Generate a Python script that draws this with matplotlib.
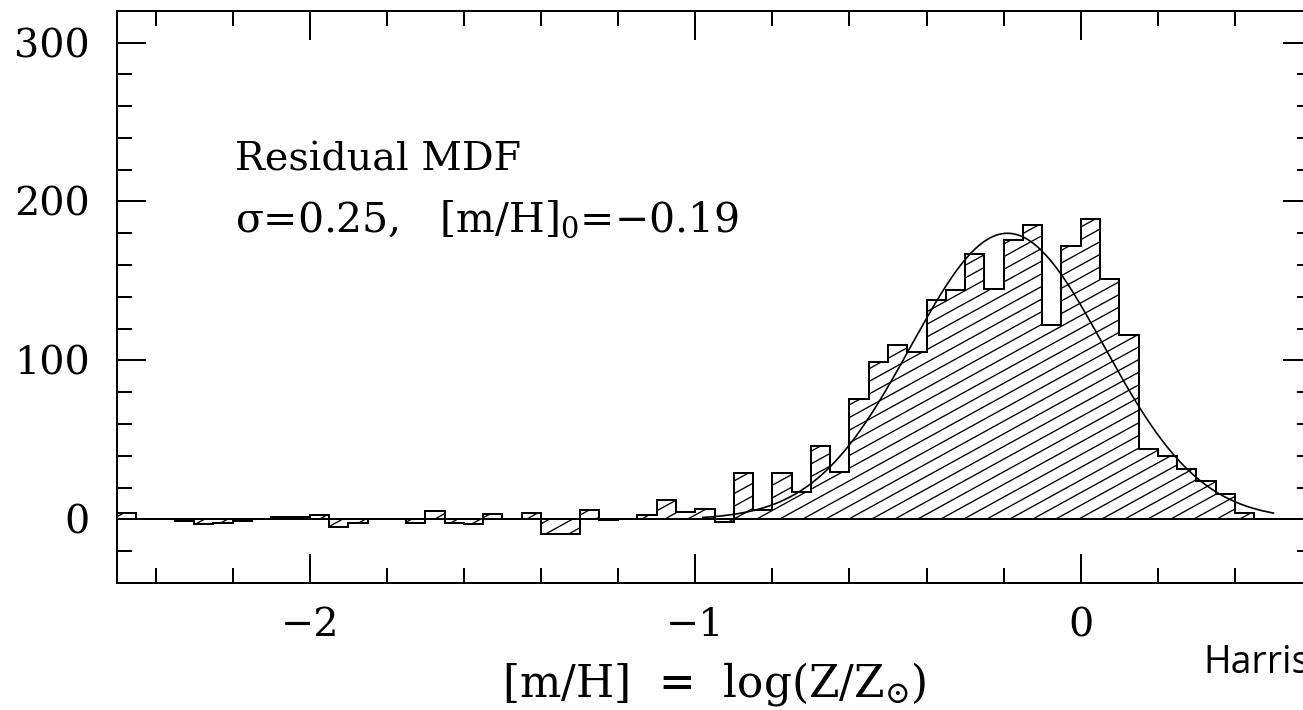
import numpy as np
import matplotlib
matplotlib.use("Agg")
import matplotlib.pyplot as plt
from matplotlib.collections import LineCollection
from matplotlib.ticker import MultipleLocator

plt.rcParams["mathtext.fontset"] = "dejavuserif"
plt.rcParams["font.family"] = ["DejaVu Serif"]

# Residual metallicity distribution, 0.05 dex bins from -2.5 to +0.5
bin_edges = np.linspace(-2.5, 0.5, 61)
residual_counts = [
    4, 0, 0, -1, -3, -2, -1, 0.5, 1.5, 1.5,
    3, -5, -2, 0, 0, -2, 5.5, -2, -3, 3.5,
    0, 4, -9, -9, 6, -0.5, 0, 3, 12, 4.5,
    6.5, -1.5, 29, 6, 29, 17.5, 46, 30, 76, 99,
    110, 105, 138, 144, 167, 145, 176, 185, 122, 172,
    189, 151, 116, 44, 40, 32, 24, 16, 4, 0,
]

# Gaussian fit parameters
fit_center = -0.19
fit_sigma = 0.25
fit_amplitude = 180.0
fit_range = (-0.98, 0.5)

x_major_ticks = [-2, -1, 0]
x_tick_labels = ["\u22122", "\u22121", "0"]
y_major_ticks = [0, 100, 200, 300]
y_tick_labels = ["0", "100", "200", "300"]

fig = plt.figure(figsize=(13.03, 7.10), dpi=100)
ax = fig.add_axes([0.0898, 0.1789, 0.9171, 0.806])
ax.set_xlim(-2.5, 0.6)
ax.set_ylim(-40, 320)

lw = 1.44
for sp in ax.spines.values():
    sp.set_linewidth(lw)

# zero line across the whole panel
ax.axhline(0, color="black", lw=lw, zorder=2)

# histogram outline
step = ax.stairs(residual_counts, bin_edges, baseline=0, fill=True,
                 facecolor="none", edgecolor="black", linewidth=lw, zorder=3)

# shallow diagonal hatching clipped to the histogram area
bbox = ax.get_window_extent()
w_px, h_px = bbox.width, bbox.height
slope = 0.55
spacing = 23.0
segs = []
c = -h_px / slope - spacing
while c < w_px + spacing:
    x0, x1 = c, c + 2.5 * w_px
    y0, y1 = 0.0, slope * (x1 - x0)
    segs.append([(x0 / w_px, y0 / h_px), (x1 / w_px, y1 / h_px)])
    c += spacing
hatch = LineCollection(segs, colors="black", linewidths=0.95,
                       transform=ax.transAxes, zorder=2.5)
ax.add_collection(hatch)
hatch.set_clip_path(step)

# Gaussian model curve
xg = np.linspace(fit_range[0], fit_range[1], 400)
yg = fit_amplitude * np.exp(-0.5 * ((xg - fit_center) / fit_sigma) ** 2)
ax.plot(xg, yg, color="black", lw=1.2, zorder=4)

ax.set_xticks(x_major_ticks, x_tick_labels)
ax.set_yticks(y_major_ticks, y_tick_labels)
ax.xaxis.set_minor_locator(MultipleLocator(0.2))
ax.yaxis.set_minor_locator(MultipleLocator(20))
ax.tick_params(which="both", direction="in", top=True, right=True,
               width=lw, labelsize=28.5)
ax.tick_params(which="major", length=20.9)
ax.tick_params(which="minor", length=10.8)
ax.tick_params(axis="x", pad=17.5)
ax.tick_params(axis="y", pad=19.4)

ax.set_xlabel(r"[m/H]  =  log(Z/Z$_{\odot}$)", fontsize=31.5, labelpad=11)

ax.text(-2.195, 219.8, "Residual MDF", fontsize=28.5, va="baseline", ha="left")
ax.text(-2.195, 180.8, "\u03c3=0.25,   [m/H]$_0$=\u22120.19", fontsize=29.5,
        va="baseline", ha="left")

fig.text(1203 / 1303, 1 - 673 / 710, "Harris", fontsize=27,
         family="Open Sans", va="baseline", ha="left")

fig.savefig("out.png", dpi=100)
